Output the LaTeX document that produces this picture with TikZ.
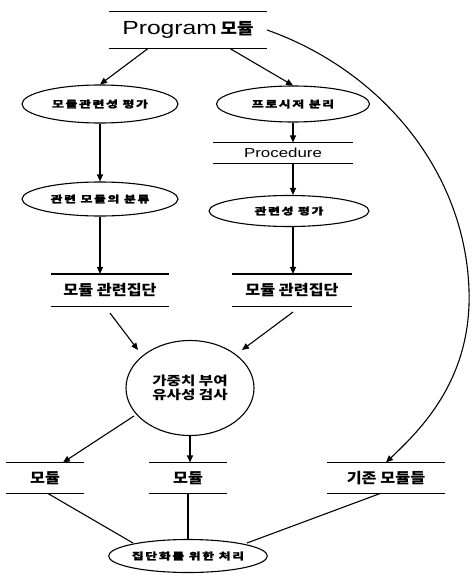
\documentclass[tikz,border=0pt]{standalone}
\usepackage{fontspec}
\usetikzlibrary{arrows.meta,calc,shapes.geometric}
\setmainfont{Liberation Sans}
\newfontfamily\latw[FakeStretch=1.3]{Liberation Sans}
\newfontfamily\krw[FakeStretch=1.12]{Noto Sans CJK KR}
\newfontfamily\krc[FakeStretch=1.25]{Noto Sans CJK KR}
\newfontfamily\krs[FakeStretch=1.35,LetterSpace=18,FakeBold=2]{Noto Sans CJK KR}
\begin{document}
\begin{tikzpicture}[x=1pt,y=-1pt,line width=1.1pt,
  arr/.style={-{Triangle[length=7pt,width=6pt]}},
  store/.style={minimum width=#1, minimum height=31, inner sep=0,
    font=\krw\bfseries\fontsize{14.5}{16}\selectfont,
    append after command={(\tikzlastnode.north west) edge (\tikzlastnode.north east)
      (\tikzlastnode.south west) edge (\tikzlastnode.south east)}},
  ell/.style={ellipse, draw, inner sep=0, font=\krs\bfseries\fontsize{9.5}{10}\selectfont},
  bigc/.style={ellipse, draw, inner sep=0, align=center,
    font=\krc\bfseries\fontsize{12.5}{14}\selectfont}]
\useasboundingbox (0,0) rectangle (472,575);

\node[store=157, minimum height=36] (prog) at (188,30)
  {{\latw\mdseries\fontsize{19}{22}\selectfont Program} {\fontsize{16}{20}\selectfont 모듈}};
\node[ell, minimum width=156, minimum height=38] (e1) at (100,104) {모듈관련성 평가};
\node[ell, minimum width=153, minimum height=36] (e2) at (293,104) {프로시저 분리};
\node[store=139, minimum height=20] (proc) at (283,153)
  {\latw\mdseries\fontsize{13}{15}\selectfont Procedure};
\node[ell, minimum width=156, minimum height=34] (e3) at (100,199) {관련 모듈의 분류};
\node[ell, minimum width=160, minimum height=31] (e4) at (289,211) {관련성 평가};
\node[store=116] (L1) at (110,290) {모듈 관련집단};
\node[store=119] (R1) at (292,290) {모듈 관련집단};
\node[bigc, minimum width=128, minimum height=95] (C) at (190,388) {가중치 부여\\유사성 검사};
\node[store=76, minimum height=30] (B1) at (45,478) {모듈};
\node[store=77, minimum height=30] (B2) at (188,478) {모듈};
\node[store=117, minimum height=30] (B3) at (386,478) {기존 모듈들};
\node[ell, minimum width=157, minimum height=33] (E5) at (188,556) {집단화를 위한 처리};

\draw[arr] ($(prog.south)+(-40,0)$) -- (e1.north);
\draw[arr] ($(prog.south)+(42,0)$) -- (e2.north);
\draw[arr] (e1.south) -- (e3.north);
\draw[arr] (e3.south) -- (e3.south |- L1.north);
\draw[arr] (e2.south) -- (e2.south |- proc.north);
\draw[arr] (e2.south |- proc.south) -- (e2.south |- e4.north);
\draw[arr] (e2.south |- e4.south) -- (e2.south |- R1.north);
\draw[arr] ($(L1.south)+(0,7)$) -- ($(C.center)+(-52,-38)$);
\draw[arr] ($(R1.south)+(1,6)$) -- ($(C.center)+(52,-38)$);
\draw[arr] (C.south) -- (C.south |- B2.north);
\draw[arr] ($(C.center)+(-56,28)$) -- ($(B1.north)+(18,0)$);
\draw[arr] (prog.east) .. controls (380,70) and (465,170) .. (469,290)
  .. controls (472,380) and (420,430) .. (B3.north);
\draw ($(B1.south)+(3,0)$) -- ($(E5.center)+(-55,-13)$);
\draw (B2.south) -- (E5.north);
\draw ($(B3.south)+(-6,0)$) -- ($(E5.center)+(59,-13)$);
\end{tikzpicture}
\end{document}
